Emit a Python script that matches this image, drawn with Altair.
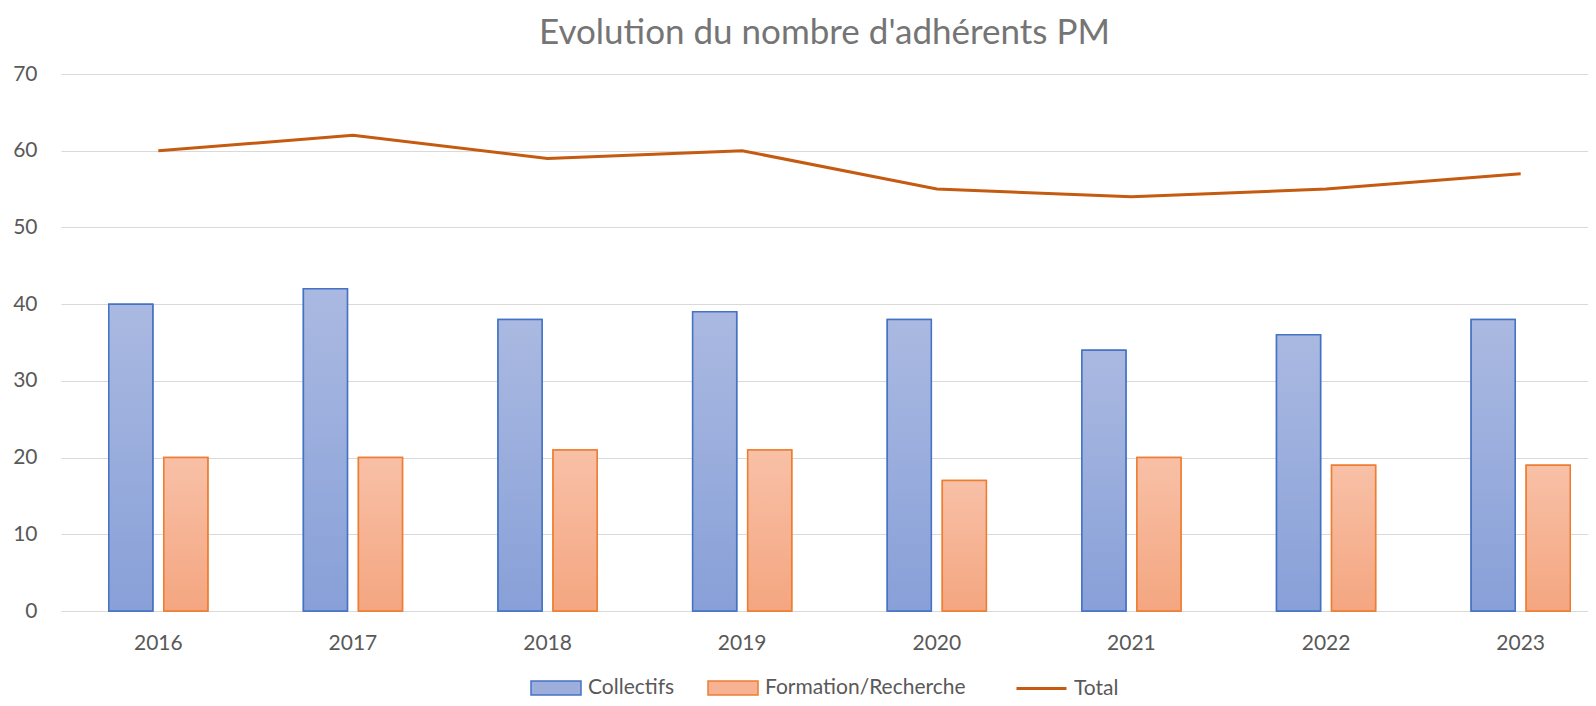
import altair as alt
import pandas as pd

# ---- data ----
years = ["2016", "2017", "2018", "2019", "2020", "2021", "2022", "2023"]
series = ["Collectifs", "Formation/Recherche"]
collectifs = [40, 42, 38, 39, 38, 34, 36, 38]
formation = [20, 20, 21, 21, 17, 20, 19, 19]
total = [60, 62, 59, 60, 55, 54, 55, 57]
line_name = "Total"
title_text = "Evolution du nombre d'adhérents PM"

bars_df = pd.DataFrame({
    "year": years * 2,
    "series": [series[0]] * len(years) + [series[1]] * len(years),
    "value": collectifs + formation,
})
line_df = pd.DataFrame({"year": years, "series": [line_name] * len(years), "value": total})

FONT = "Lato"
LABEL = "#595959"
BLUE_EDGE = "#4472C4"
ORANGE_EDGE = "#ED7D31"
FS = 21

x_scale = alt.Scale(domain=years, range=[0, 1557], paddingInner=0.491, paddingOuter=0.2455)
y_scale = alt.Scale(domain=[0, 70], nice=False)
off_scale = alt.Scale(domain=series, paddingInner=0.2, paddingOuter=0)

x_enc = alt.X("year:N", scale=x_scale, sort=years,
              axis=alt.Axis(title=None, labelAngle=0, domain=False, ticks=False,
                            labelPadding=21, labelFontSize=FS, labelColor=LABEL,
                            labelFont=FONT, grid=False))
y_enc = alt.Y("value:Q", scale=y_scale,
              axis=alt.Axis(title=None, values=list(range(0, 71, 10)), domain=False,
                            ticks=False, labelPadding=24, labelFontSize=FS,
                            labelColor=LABEL, labelFont=FONT, grid=True,
                            gridColor="#D9D9D9", gridWidth=1.2))
xoff_enc = alt.XOffset("series:N", scale=off_scale, sort=series)

bar_legend = alt.Legend(
    title=None, orient="none", legendX=469, legendY=588, direction="horizontal",
    symbolType="M-1,-0.28L1,-0.28L1,0.28L-1,0.28Z", symbolSize=2500,
    symbolStrokeWidth=1.5, labelFontSize=FS, labelFont=FONT, labelColor=LABEL,
    labelOffset=6, columnPadding=30, labelLimit=500,
)

base_bars = alt.Chart(bars_df).mark_bar(strokeWidth=1.5).encode(
    x=x_enc, xOffset=xoff_enc, y=y_enc,
    fill=alt.Fill("series:N", sort=series,
                  scale=alt.Scale(domain=series, range=["#9DAEDD", "#F6B293"]),
                  legend=bar_legend),
    stroke=alt.Stroke("series:N", sort=series,
                      scale=alt.Scale(domain=series, range=[BLUE_EDGE, ORANGE_EDGE]),
                      legend=bar_legend),
)

grad_blue = alt.Gradient(gradient="linear", x1=0, x2=0, y1=0, y2=1,
                         stops=[alt.GradientStop(color="#AAB9E1", offset=0),
                                alt.GradientStop(color="#88A0D8", offset=1)])
grad_orange = alt.Gradient(gradient="linear", x1=0, x2=0, y1=0, y2=1,
                           stops=[alt.GradientStop(color="#F8C0A7", offset=0),
                                  alt.GradientStop(color="#F4A680", offset=1)])

overlay = alt.Chart(bars_df).mark_bar(strokeWidth=1.5).encode(
    x=x_enc, xOffset=xoff_enc, y=y_enc,
    fill=alt.condition(alt.datum.series == series[0], alt.value(grad_blue), alt.value(grad_orange)),
    stroke=alt.condition(alt.datum.series == series[0], alt.value(BLUE_EDGE), alt.value(ORANGE_EDGE)),
)

line = alt.Chart(line_df).mark_line(strokeWidth=3).encode(
    x=x_enc, y=y_enc,
    color=alt.Color("series:N",
                    scale=alt.Scale(domain=[line_name], range=["#C55A11"]),
                    legend=alt.Legend(title=None, orient="none", legendX=954, legendY=588,
                                      direction="horizontal", symbolType="stroke",
                                      symbolSize=2500, symbolStrokeWidth=3,
                                      labelFontSize=FS, labelFont=FONT, labelColor=LABEL,
                                      labelOffset=6, labelLimit=300)),
)

chart = alt.layer(base_bars, overlay, line).properties(
    width=1527, height=537,
    title=alt.TitleParams(title_text, fontSize=35, font=FONT, color="#757575",
                          fontWeight="normal", anchor="middle", offset=12),
    autosize=alt.AutoSizeParams(type="none"),
    padding={"left": 53, "top": 66, "right": 0, "bottom": 87},
).configure_view(stroke=None)

chart.save("out.html", embed_options={"renderer": "svg", "actions": False})
